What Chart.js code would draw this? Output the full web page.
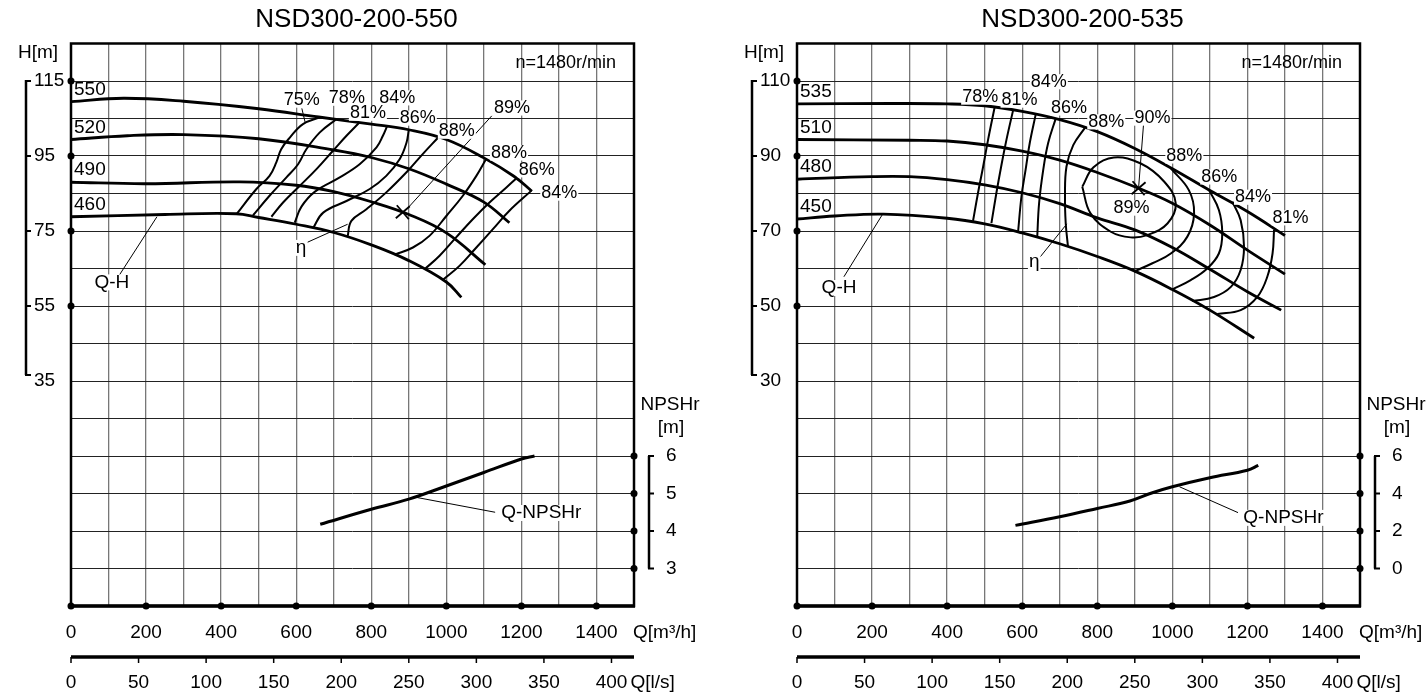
<!DOCTYPE html>
<html>
<head>
<meta charset="utf-8">
<script src="https://cdn.jsdelivr.net/npm/chart.js@4.4.0/dist/chart.umd.min.js"></script>
<style>
  html, body { margin: 0; padding: 0; background: #fff; }
  #wrap { position: relative; width: 1426px; height: 699px; }
  canvas { position: absolute; top: 0; }
  #c1 { left: 0; }
  #c2 { left: 713px; }
</style>
</head>
<body>
<div id="wrap">
  <canvas id="c1" width="713" height="699"></canvas>
  <canvas id="c2" width="713" height="699"></canvas>
</div>
<script>
// shared axis ticks
const qTicks = [0, 200, 400, 600, 800, 1000, 1200, 1400];
const lsTicks = [0, 50, 100, 150, 200, 250, 300, 350, 400];

// ---- NSD300-200-550 : Q [m3/h], H [m] ----
const a_qh550 = [[0,109.5],[140,110.4],[300,109.6],[500,107.6],[660,105.4],[800,103.5],[900,102],[1000,99.4],[1100,94.5],[1180,89.6],[1228,85.6]];
const a_qh520 = [[0,99.4],[150,100.4],[300,100.7],[500,99.6],[700,96.6],[800,94.6],[900,91.6],[1000,87.5],[1100,82.7],[1168,77.2]];
const a_qh490 = [[0,88],[200,87.6],[450,88.1],[600,87.2],[700,85.5],[800,82.8],[900,79.4],[1000,74.5],[1104,66]];
const a_qh460 = [[0,78.8],[250,79.4],[440,79.6],[500,78.6],[600,76.8],[700,74.6],[800,71.3],[900,67.1],[1000,61.4],[1040,57.3]];
const a_diam = ['550', '520', '490', '460'];
// efficiency lines
const a_eff75 = [[441,79.5],[494,86.2],[529,89.7],[547,93.3],[560,96.8],[583,99.9],[618,103.5],[663,105.3]];
const a_eff78 = [[485,79.2],[529,84.4],[574,89.3],[605,92.8],[627,96.8],[663,101.3],[707,104.8]];
const a_eff81 = [[534,78.8],[565,82.6],[609,87],[654,91.5],[698,96.4],[734,100.4],[769,104]];
const a_eff84 = [[596,77.2],[614,81.5],[650,85.5],[716,89.3],[769,92.8],[814,97.3],[831,100.4],[842,102.9]];
const a_eff86 = [[645,75.8],[672,79.9],[734,83],[796,86.2],[840,89.7],[876,94.2],[894,98.6],[900,102]];
const a_eff88L = [[737,73.6],[747,77.7],[787,80.8],[840,85.3],[897,91],[937,95.5],[977,99.8]];
const a_eff88R = [[862,68.7],[911,70.6],[955,73.7],[1000,79],[1044,84.4],[1080,89.7],[1106,94.2]];
const a_eff86R = [[942,64.8],[982,68.4],[1026,73.3],[1071,78.2],[1115,82.6],[1160,86.6],[1186,89]];
const a_eff84R = [[991,62],[1035,65.7],[1080,70.6],[1124,75.5],[1168,80.4],[1226,85.7]];
const a_best = [884, 80];
// NPSHr [m]
const a_npsh = [[664,4.18],[800,4.58],[900,4.85],[1000,5.2],[1100,5.56],[1200,5.92],[1235,6.0]];
const a_hTicks = [115, 95, 75, 55, 35];
const a_nTicks = [6, 5, 4, 3];

// ---- NSD300-200-535 ----
const b_qh535 = [[0,103.9],[250,104],[400,103.9],[500,103.4],[600,101.9],[700,99.7],[800,96.5],[900,92],[1000,86.6],[1100,80.8],[1200,75.2],[1300,68.8]];
const b_qh510 = [[0,94.4],[300,94.2],[400,94],[500,93],[600,91.3],[700,88.9],[800,85.6],[910,81.4],[1000,77.4],[1100,71.6],[1200,64.9],[1300,58.5]];
const b_qh480 = [[0,83.8],[200,84.5],[300,84.5],[400,83.7],[500,82.3],[600,80.2],[700,77.3],[800,73.5],[900,70.3],[1000,65.6],[1100,59.8],[1200,53.8],[1290,48.9]];
const b_qh450 = [[0,73.2],[100,74],[230,74.5],[400,73.4],[500,71.9],[600,69.5],[700,66.6],[800,63.2],[900,59.3],[1000,54.4],[1100,48.9],[1218,41.4]];
const b_diam = ['535', '510', '480', '450'];
const b_eff78 = [[469,72.7],[482,80],[496,87.2],[509,94.3],[527,103.2]];
const b_eff81 = [[518,72.1],[531,80],[544,87.2],[558,94.3],[576,102.3]];
const b_eff84 = [[589,69.7],[598,79.2],[609,86.3],[620,93.4],[636,101.1]];
const b_eff86 = [[640,68.3],[645,77.4],[656,86.3],[669,93.4],[689,99.9]];
const b_eff88L = [[722,65.8],[716,72],[714,79.2],[718,87.2],[736,92.9],[767,97.5]];
const b_eff89 = [[760,81.8],[790,87],[844,89.6],[916,88],[978,83.2],[1009,77.4],[987,72],[933,68.9],[889,68.3],[836,69.8],[782,74.7],[760,81.8]];
const b_eff88R = [[996,86.7],[1044,80.9],[1058,74.7],[1040,68.5],[996,64],[947,61.4],[898,59.2]];
const b_eff86R = [[1098,80.9],[1124,75.6],[1133,69.4],[1124,64],[1093,60],[1049,56.9],[1000,54.4]];
const b_eff84R = [[1160,77.8],[1182,72.9],[1191,65.8],[1182,59.6],[1156,55.1],[1111,52.4],[1053,51.3]];
const b_eff81R = [[1271,70.3],[1267,64],[1253,57.8],[1227,52.5],[1182,48.9],[1120,47.9]];
const b_best = [910, 81.4];
const b_npsh = [[582,2.3],[700,2.76],[800,3.2],[887,3.6],[947,4.04],[1000,4.36],[1100,4.84],[1200,5.24],[1229,5.5]];
const b_hTicks = [110, 90, 70, 50, 30];
const b_nTicks = [6, 4, 2, 0];

const FONT = '"Liberation Sans", Arial, sans-serif';
const M3_PER_LS = 3.6;

function txt(ctx, s, x, y, size, align, bg) {
  ctx.font = size + 'px ' + FONT;
  ctx.textAlign = align || 'center';
  ctx.textBaseline = 'middle';
  if (bg) {
    const w = ctx.measureText(s).width;
    const x0 = align === 'left' ? x : align === 'right' ? x - w : x - w / 2;
    ctx.fillStyle = '#fff';
    ctx.fillRect(x0 - 1, y - size * 0.42, w + 2, size * 0.84);
  }
  ctx.fillStyle = '#000';
  ctx.fillText(s, x, y);
}

function seg(ctx, x1, y1, x2, y2, w) {
  ctx.lineWidth = w;
  ctx.beginPath();
  ctx.moveTo(x1, y1);
  ctx.lineTo(x2, y2);
  ctx.stroke();
}

function dot(ctx, x, y) {
  ctx.beginPath();
  ctx.arc(x, y, 3.5, 0, Math.PI * 2);
  ctx.fill();
}

// axes, brackets, labels, leaders
function decoPlugin(p) {
  return {
    id: 'deco',
    afterDraw(chart) {
      const { ctx, chartArea: a, scales } = chart;
      const X = v => scales.x.getPixelForValue(v);
      const Y = v => scales.y.getPixelForValue(v);
      const N = v => scales.y2.getPixelForValue(v);
      ctx.save();
      ctx.strokeStyle = '#000';
      ctx.fillStyle = '#000';
      ctx.lineCap = 'butt';

      // frame
      ctx.lineWidth = 2.5;
      ctx.strokeRect(a.left, a.top, a.right - a.left, a.bottom - a.top);
      seg(ctx, a.left - 1, a.bottom, a.right + 1, a.bottom, 3.5);

      // title
      txt(ctx, p.title, (a.left + a.right) / 2 + 4, 20, 26, 'center');
      txt(ctx, 'n=1480r/min', a.right - 18, 63, 18, 'right');

      // H axis
      const bx = a.left - 45;
      const hT = p.hTicks;
      seg(ctx, bx, Y(hT[0]) - 1, bx, Y(hT[hT.length - 1]) - 6, 2.5);
      seg(ctx, bx - 1, Y(hT[0]), bx + 5, Y(hT[0]), 2);
      seg(ctx, bx - 1, Y(hT[hT.length - 1]) - 6, bx + 5, Y(hT[hT.length - 1]) - 6, 2);
      hT.forEach((h, i) => {
        if (i > 0 && i < hT.length - 1) seg(ctx, bx, Y(h), bx + 5, Y(h), 2);
        txt(ctx, String(h), bx + 8, Y(h), 19, 'left');
        if (i < hT.length - 1) dot(ctx, a.left, Y(h));
      });
      txt(ctx, 'H[m]', a.left - 53, 53, 19, 'left');

      // NPSHr axis
      const nx = a.right + 15;
      const nT = p.nTicks;
      const nTop = N(nT[0]), nBot = N(nT[nT.length - 1]);
      seg(ctx, nx, nTop, nx, nBot, 2.5);
      seg(ctx, nx - 1, nTop, nx + 5, nTop, 2);
      seg(ctx, nx - 1, nBot, nx + 5, nBot, 2);
      nT.forEach((n, i) => {
        if (i > 0 && i < nT.length - 1) seg(ctx, nx, N(n), nx + 5, N(n), 2);
        txt(ctx, String(n), a.right + 32, N(n), 19, 'left');
        dot(ctx, a.right, N(n));
      });
      txt(ctx, 'NPSHr', a.right + 36, 405, 19, 'center');
      txt(ctx, '[m]', a.right + 37, 428, 19, 'center');

      // Q axis m3/h
      qTicks.forEach(q => {
        dot(ctx, X(q), a.bottom);
        txt(ctx, String(q), X(q), a.bottom + 27, 19, 'center');
      });
      txt(ctx, 'Q[m³/h]', a.right - 1, a.bottom + 27, 19, 'left');

      // Q axis l/s
      const ly = a.bottom + 51;
      seg(ctx, a.left, ly, a.right, ly, 3.5);
      lsTicks.forEach(l => {
        seg(ctx, X(l * M3_PER_LS), ly, X(l * M3_PER_LS), ly + 6, 1.5);
        txt(ctx, String(l), X(l * M3_PER_LS), a.bottom + 77, 19, 'center');
      });
      txt(ctx, 'Q[l/s]', X(400 * M3_PER_LS) + 19, a.bottom + 77, 19, 'left');

      // leaders
      p.leaders.forEach(([q1, h1, q2, h2]) => seg(ctx, X(q1), Y(h1), X(q2), Y(h2), 1));

      // best efficiency point
      const bxp = X(p.best[0]), byp = Y(p.best[1]);
      seg(ctx, bxp - 6, byp - 7, bxp + 6, byp + 7, 1.8);
      seg(ctx, bxp - 7, byp + 6, bxp + 7, byp - 6, 1.8);

      // diameters
      p.qh.forEach((c, i) => txt(ctx, p.diam[i], a.left + 3, Y(c[0][1]) - 12, 19, 'left'));

      // text labels
      p.labels.forEach(l => txt(ctx, l.t, X(l.q), Y(l.h), l.s || 18, 'center', true));
      ctx.restore();
    }
  };
}

function pumpChart(id, p) {
  const line = (pts, w, axis) => ({
    data: pts.map(([x, y]) => ({ x, y })),
    showLine: true,
    borderColor: '#000',
    borderWidth: w,
    pointRadius: 0,
    tension: 0.4,
    fill: false,
    yAxisID: axis || 'y'
  });
  const datasets = [];
  p.qh.forEach(c => datasets.push(line(c, 2.8)));
  p.eff.forEach(c => datasets.push(line(c, 2)));
  datasets.push(line(p.npsh, 3, 'y2'));

  new Chart(document.getElementById(id), {
    type: 'scatter',
    data: { datasets },
    options: {
      responsive: false,
      animation: false,
      events: [],
      layout: { padding: { left: p.padL, right: p.padR, top: 43.5, bottom: 93 } },
      plugins: { legend: { display: false }, tooltip: { enabled: false } },
      scales: {
        x: {
          type: 'linear', min: 0, max: 1500,
          ticks: { stepSize: 100, display: false },
          grid: { color: '#777', lineWidth: 1.3, drawTicks: false },
          border: { display: false }
        },
        y: {
          type: 'linear', min: p.hMin, max: p.hMax,
          ticks: { stepSize: 10, display: false },
          grid: { color: '#222', lineWidth: 1, drawTicks: false },
          border: { display: false }
        },
        y2: { type: 'linear', position: 'right', min: p.nMin, max: p.nMax, display: false }
      }
    },
    plugins: [decoPlugin(p)]
  });
}

pumpChart('c1', {
  title: 'NSD300-200-550',
  padL: 71, padR: 79, hMin: -25, hMax: 125, nMin: 2, nMax: 17,
  qh: [a_qh550, a_qh520, a_qh490, a_qh460],
  diam: a_diam,
  eff: [a_eff75, a_eff78, a_eff81, a_eff84, a_eff86, a_eff88L, a_eff88R, a_eff86R, a_eff84R],
  npsh: a_npsh, best: a_best, hTicks: a_hTicks, nTicks: a_nTicks,
  leaders: [[126,62.8,229,78.8],[630,72,737,76.8],[899,81.3,1121,105.7],[624,103.9,615,107.7],[913,4.1,1130,0]],
  labels: [
    { t: '75%', q: 615, h: 109.9 }, { t: '78%', q: 735, h: 110.4 }, { t: '84%', q: 869, h: 110.5 },
    { t: '81%', q: 791, h: 106.4 }, { t: '86%', q: 924, h: 105.1 }, { t: '88%', q: 1028, h: 101.6 },
    { t: '89%', q: 1175, h: 107.8 }, { t: '88%', q: 1167, h: 95.8 }, { t: '86%', q: 1241, h: 91.3 },
    { t: '84%', q: 1301, h: 85.1 },
    { t: 'η', q: 613, h: 70.5, s: 19 }, { t: 'Q-H', q: 109, h: 61.3, s: 19 },
    { t: 'Q-NPSHr', q: 1253, h: -0.2, s: 19 }
  ]
});

pumpChart('c2', {
  title: 'NSD300-200-535',
  padL: 84, padR: 66, hMin: -30, hMax: 120, nMin: -2, nMax: 28,
  qh: [b_qh535, b_qh510, b_qh480, b_qh450],
  diam: b_diam,
  eff: [b_eff78, b_eff81, b_eff84, b_eff86, b_eff88L, b_eff89, b_eff88R, b_eff86R, b_eff84R, b_eff81R],
  npsh: b_npsh, best: b_best, hTicks: b_hTicks, nTicks: b_nTicks,
  leaders: [[125,57.8,227,74.3],[648,63.1,719,71.9],[923.5,98.7,910,81.4],[1019,1.8,1175,-5.1]],
  labels: [
    { t: '78%', q: 488, h: 105.7 }, { t: '81%', q: 593, h: 104.9 }, { t: '84%', q: 671, h: 109.8 },
    { t: '86%', q: 725, h: 102.8 }, { t: '88%', q: 824, h: 99.1 }, { t: '90%', q: 947, h: 100.1 },
    { t: '89%', q: 891, h: 76.1 }, { t: '88%', q: 1032, h: 90 }, { t: '86%', q: 1125, h: 84.4 },
    { t: '84%', q: 1215, h: 79 }, { t: '81%', q: 1315, h: 73.5 },
    { t: 'η', q: 632, h: 61.7, s: 19 }, { t: 'Q-H', q: 112, h: 54.8, s: 19 },
    { t: 'Q-NPSHr', q: 1296, h: -6.5, s: 19 }
  ]
});
</script>
</body>
</html>
